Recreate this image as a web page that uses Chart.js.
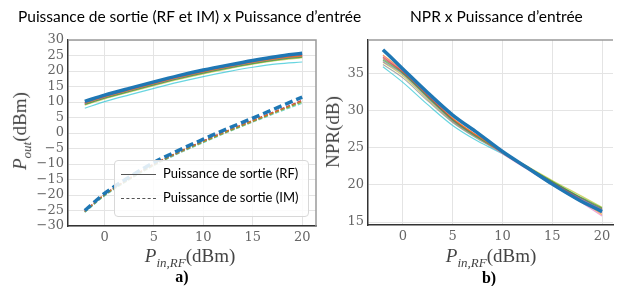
<!DOCTYPE html>
<html>
<head>
<meta charset="utf-8">
<script src="https://cdn.jsdelivr.net/npm/chart.js@4.4.1/dist/chart.umd.min.js"></script>
<style>
  body { margin: 0; background: #fff; }
  #wrap { position: relative; width: 619px; height: 286px; overflow: hidden; font-family: Lato, sans-serif; }
  canvas { position: absolute; top: 0; }
  .title { position: absolute; top: 7px; font-size: 15.5px; color: #000; white-space: nowrap; }
  .lab { position: absolute; font-family: "Liberation Serif", serif; font-size: 19px; color: #444; white-space: nowrap; }
  .lab sub { font-size: 13px; }
  .rot { transform: translate(-50%, -50%) rotate(-90deg); }
  .hc { transform: translate(-50%, -50%); }
  .panel { position: absolute; font-family: "Liberation Serif", serif; font-weight: bold; font-size: 16px; color: #000; }
  #legend { position: absolute; left: 114px; top: 160px; width: 193px; height: 55px; border: 1px solid #d8d8d8;
            border-radius: 4px; background: rgba(255,255,255,0.85); }
  #legend .sw { position: absolute; left: 6px; width: 35px; height: 0; }
  #legend .txt { position: absolute; left: 48px; font-size: 13px; color: #000; white-space: nowrap; }
</style>
</head>
<body>
<div id="wrap">
  <canvas id="left" width="320" height="286" style="left:0"></canvas>
  <canvas id="right" width="319" height="286" style="left:300px"></canvas>

  <div class="title" style="left:18px">Puissance de sortie (RF et IM) x Puissance d’entrée</div>
  <div class="title" style="left:410px">NPR x Puissance d’entrée</div>

  <div class="lab rot" style="left:22px; top:131px"><i>P</i><sub><i>out</i></sub>(dBm)</div>
  <div class="lab hc" style="left:190px; top:258px"><i>P</i><sub><i>in,RF</i></sub>(dBm)</div>
  <div class="panel hc" style="left:182px; top:277px">a)</div>

  <div class="lab rot" style="left:333px; top:132px">NPR(dB)</div>
  <div class="lab hc" style="left:491px; top:258px"><i>P</i><sub><i>in,RF</i></sub>(dBm)</div>
  <div class="panel hc" style="left:489px; top:278px">b)</div>

  <div id="legend">
    <div class="sw" style="top:13px; border-top:1.5px solid #555"></div>
    <div class="txt" style="top:4px">Puissance de sortie (RF)</div>
    <div class="sw" style="top:37px; border-top:1.5px dashed #555"></div>
    <div class="txt" style="top:28px">Puissance de sortie (IM)</div>
  </div>
</div>

<script>
// input power (dBm), shared by every curve
const pIn = [-2, 0, 2.5, 5, 7.5, 10, 12.5, 15, 17.5, 20];

const colors = ['#1f77b4', '#ff7f0e', '#2ca02c', '#d62728', '#9467bd',
                '#8c564b', '#e377c2', '#7f7f7f', '#bcbd22', '#17becf'];

// RF output power, one row per measured curve
const rfOut = [
  [10.2, 12.2, 14.4, 16.5, 18.5, 20.3, 21.9, 23.4, 24.7, 25.7],
  [9.6, 11.6, 13.8, 15.9, 17.9, 19.7, 21.3, 22.8, 24.0, 24.9],
  [9.2, 11.2, 13.4, 15.5, 17.5, 19.3, 20.9, 22.4, 23.6, 24.5],
  [9.8, 11.8, 14.0, 16.1, 18.1, 19.9, 21.5, 23.0, 24.2, 25.1],
  [9.5, 11.5, 13.7, 15.8, 17.8, 19.6, 21.2, 22.7, 23.9, 24.8],
  [9.7, 11.7, 13.9, 16.0, 18.0, 19.8, 21.4, 22.9, 24.1, 25.0],
  [9.4, 11.4, 13.6, 15.7, 17.7, 19.5, 21.1, 22.6, 23.8, 24.8],
  [9.3, 11.3, 13.5, 15.6, 17.6, 19.4, 21.0, 22.5, 23.7, 24.6],
  [9.0, 11.0, 13.2, 15.3, 17.3, 19.1, 20.7, 22.2, 23.4, 24.3],
  [8.0, 10.1, 12.3, 14.4, 16.4, 18.2, 19.8, 21.2, 22.3, 22.9]
];

// intermodulation output power
const imOut = [
  [-25.0, -19.5, -14.2, -9.5, -5.6, -2.0, 1.5, 4.8, 8.2, 11.6],
  [-25.3, -19.9, -14.7, -10.1, -6.2, -2.7, 0.7, 3.9, 7.1, 10.3],
  [-25.4, -20.0, -14.8, -10.2, -6.3, -2.8, 0.6, 3.8, 7.0, 10.1],
  [-25.2, -19.8, -14.6, -10.0, -6.1, -2.5, 0.9, 4.1, 7.3, 10.6],
  [-25.3, -19.9, -14.7, -10.1, -6.2, -2.6, 0.8, 4.0, 7.2, 10.4],
  [-25.2, -19.8, -14.6, -10.0, -6.1, -2.6, 0.8, 4.0, 7.2, 10.5],
  [-25.3, -19.9, -14.8, -10.2, -6.3, -2.7, 0.7, 3.9, 7.1, 10.4],
  [-25.4, -20.0, -14.9, -10.3, -6.4, -2.8, 0.6, 3.8, 7.0, 10.2],
  [-25.5, -20.2, -15.0, -10.4, -6.5, -3.0, 0.4, 3.6, 6.8, 9.9],
  [-25.6, -20.3, -15.1, -10.5, -6.6, -3.1, 0.3, 3.5, 6.6, 9.6]
];

// noise power ratio
const npr = [
  [38.2, 35.6, 32.4, 29.4, 27.0, 24.5, 22.3, 20.1, 18.1, 16.4],
  [37.5, 35.4, 32.3, 29.0, 26.6, 24.3, 22.2, 20.2, 18.2, 16.0],
  [36.8, 35.0, 31.8, 28.7, 26.4, 24.4, 22.4, 20.5, 18.6, 16.9],
  [37.2, 35.2, 32.0, 28.9, 26.6, 24.5, 22.4, 20.3, 18.3, 16.3],
  [36.6, 34.9, 31.7, 28.6, 26.4, 24.4, 22.3, 20.3, 18.4, 16.6],
  [37.0, 35.1, 31.9, 28.8, 26.5, 24.4, 22.4, 20.4, 18.5, 16.8],
  [37.4, 35.3, 32.1, 28.8, 26.5, 24.2, 22.1, 20.0, 18.0, 15.8],
  [36.2, 34.4, 31.3, 28.4, 26.2, 24.3, 22.3, 20.4, 18.5, 16.7],
  [36.5, 34.7, 31.5, 28.5, 26.3, 24.4, 22.5, 20.6, 18.8, 17.0],
  [35.9, 33.8, 30.8, 28.0, 25.9, 24.2, 22.3, 20.4, 18.5, 16.6]
];

const xTicks = [0, 5, 10, 15, 20];
const outTicks = [-30, -25, -20, -15, -10, -5, 0, 5, 10, 15, 20, 25, 30];
const nprTicks = [15, 20, 25, 30, 35];

const tickFont = { family: 'DejaVu Serif', size: 13 };
const minus = v => String(v).replace('-', '\u2212');

function fade(hex, a) {
  const n = parseInt(hex.slice(1), 16);
  return `rgba(${n >> 16}, ${(n >> 8) & 255}, ${n & 255}, ${a})`;
}

function series(rows, dashed) {
  return rows.map((row, i) => ({
    data: row.map((y, j) => ({ x: pIn[j], y: y })),
    borderColor: i === 0 ? colors[0] : fade(colors[i], 0.65),
    borderWidth: i === 0 ? 3.5 : 1.2,
    borderDash: dashed ? (i === 0 ? [8, 4] : [4, 2]) : [],
    pointRadius: 0,
    cubicInterpolationMode: 'monotone',
    fill: false
  }));
}

// light frame on the open sides of the axes box
const frame = {
  id: 'frame',
  afterDraw(chart, args, opts) {
    const { ctx, chartArea: a } = chart;
    ctx.save();
    ctx.strokeStyle = '#9a9a9a';
    ctx.lineWidth = 1.5;
    ctx.beginPath();
    ctx.moveTo(a.left, a.top);
    ctx.lineTo(a.right, a.top);
    if (opts.right) ctx.lineTo(a.right, a.bottom);
    ctx.stroke();
    ctx.restore();
  }
};

function axes(xMin, xMax, yMin, yMax, yTicks, xHeight) {
  const grid = { color: '#e4e4e4', lineWidth: 1, drawTicks: false };
  const border = { color: '#333', width: 1.5 };
  return {
    x: {
      type: 'linear', min: xMin, max: xMax, grid, border,
      afterBuildTicks: s => { s.ticks = xTicks.map(v => ({ value: v })); },
      afterFit: s => { s.height = xHeight; },
      ticks: { font: tickFont, color: '#666', padding: 4, maxRotation: 0, autoSkip: false, callback: minus }
    },
    y: {
      type: 'linear', min: yMin, max: yMax, grid, border,
      afterBuildTicks: s => { s.ticks = yTicks.map(v => ({ value: v })); },
      afterFit: s => { s.width = 68; },
      ticks: { font: tickFont, color: '#666', padding: 4, autoSkip: false, callback: minus }
    }
  };
}

const common = {
  responsive: false,
  animation: false,
  devicePixelRatio: 1,
  plugins: { legend: { display: false }, tooltip: { enabled: false } }
};

new Chart(document.getElementById('left'), {
  type: 'line',
  data: { datasets: series(rfOut, false).concat(series(imOut, true)) },
  options: Object.assign({}, common, {
    layout: { padding: { top: 40, right: 4, left: 0, bottom: 0 } },
    scales: axes(-3.7, 21.4, -30, 30, outTicks, 60),
    plugins: Object.assign({}, common.plugins, { frame: { right: true } })
  }),
  plugins: [frame]
});

new Chart(document.getElementById('right'), {
  type: 'line',
  data: { datasets: series(npr, false) },
  options: Object.assign({}, common, {
    layout: { padding: { top: 40, right: 6, left: 0, bottom: 0 } },
    scales: axes(-3.5, 21.1, 14.6, 39.5, nprTicks, 61),
    plugins: Object.assign({}, common.plugins, { frame: { right: false } })
  }),
  plugins: [frame]
});
</script>
</body>
</html>
